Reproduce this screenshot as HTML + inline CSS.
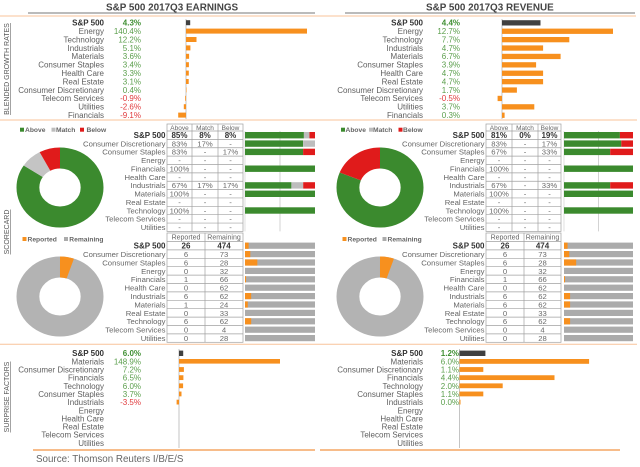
<!DOCTYPE html>
<html><head><meta charset="utf-8"><style>
html,body{margin:0;padding:0;background:#fff;}
svg{display:block;}
text{font-family:"Liberation Sans",Arial,sans-serif;}
.l{font-size:8px;fill:#5f5f5f;text-anchor:end}
.b{font-size:8px;font-weight:bold;fill:#333;text-anchor:end}
.v{font-size:8px;fill:#5a9e4b;text-anchor:end}
.vb{font-size:8px;font-weight:bold;fill:#3f8f32;text-anchor:end}
.vr{font-size:8px;fill:#e0393b;text-anchor:end}
.sl{font-size:7.7px;fill:#666;text-anchor:end}
.c{font-size:7.7px;fill:#6a6a6a;text-anchor:middle}
.cb{font-size:8px;font-weight:bold;fill:#333;text-anchor:middle}
.h{font-size:6.5px;fill:#666;text-anchor:middle}
.lg{font-size:6.7px;font-weight:bold;fill:#666}
.vt{font-size:7px;fill:#555;text-anchor:middle}
.ti{font-size:9.9px;font-weight:bold;fill:#444}
.o{fill:#f7901e}
.k{fill:#404040}
.gr{fill:#3b8a2e}
.gy{fill:#bdbdbd}
.rd{fill:#e01b1b}
.gb{fill:#ababab}
</style></head><body>
<svg width="640" height="467" viewBox="0 0 640 467" xmlns="http://www.w3.org/2000/svg">
<rect width="640" height="467" fill="#fff"/>

<!-- Titles -->
<text class="ti" x="106" y="10.4">S&amp;P 500 2017Q3 EARNINGS</text>
<text class="ti" x="426" y="10.4">S&amp;P 500 2017Q3 REVENUE</text>
<line x1="28" y1="13" x2="315" y2="13" stroke="#777" stroke-width="1"/>
<line x1="345" y1="13" x2="635" y2="13" stroke="#777" stroke-width="1"/>

<!-- peach separators -->
<line x1="0" y1="16" x2="636" y2="16" stroke="#f8c39a" stroke-width="1"/>
<line x1="0" y1="120" x2="637" y2="120" stroke="#f8c39a" stroke-width="1"/>
<line x1="0" y1="344.3" x2="637" y2="344.3" stroke="#f8c39a" stroke-width="1"/>
<line x1="33" y1="450" x2="315" y2="450" stroke="#f29444" stroke-width="1.2"/>
<line x1="320" y1="450" x2="620" y2="450" stroke="#f29444" stroke-width="1.2"/>

<!-- vertical section labels -->
<text class="vt" transform="translate(9,69) rotate(-90)">BLENDED GROWTH RATES</text>
<line x1="10.3" y1="23" x2="10.3" y2="115" stroke="#666" stroke-width="0.6"/>
<text class="vt" transform="translate(9,232) rotate(-90)">SCORECARD</text>
<line x1="10.3" y1="209.5" x2="10.3" y2="254.5" stroke="#666" stroke-width="0.6"/>
<text class="vt" transform="translate(9,397) rotate(-90)">SURPRISE FACTORS</text>
<line x1="10.3" y1="361.5" x2="10.3" y2="432.5" stroke="#666" stroke-width="0.6"/>

<!-- ===== TOP LEFT: EARNINGS GROWTH ===== -->
<text class="b" x="104" y="25.6">S&amp;P 500</text>
<text class="l" x="104" y="34.0">Energy</text>
<text class="l" x="104" y="42.4">Technology</text>
<text class="l" x="104" y="50.8">Industrials</text>
<text class="l" x="104" y="59.2">Materials</text>
<text class="l" x="104" y="67.6">Consumer Staples</text>
<text class="l" x="104" y="76.0">Health Care</text>
<text class="l" x="104" y="84.4">Real Estate</text>
<text class="l" x="104" y="92.8">Consumer Discretionary</text>
<text class="l" x="104" y="101.2">Telecom Services</text>
<text class="l" x="104" y="109.6">Utilities</text>
<text class="l" x="104" y="118.0">Financials</text>

<text class="vb" x="141" y="25.6">4.3%</text>
<text class="v" x="141" y="34.0">140.4%</text>
<text class="v" x="141" y="42.4">12.2%</text>
<text class="v" x="141" y="50.8">5.1%</text>
<text class="v" x="141" y="59.2">3.6%</text>
<text class="v" x="141" y="67.6">3.4%</text>
<text class="v" x="141" y="76.0">3.3%</text>
<text class="v" x="141" y="84.4">3.1%</text>
<text class="v" x="141" y="92.8">0.4%</text>
<text class="vr" x="141" y="101.2">-0.9%</text>
<text class="vr" x="141" y="109.6">-2.6%</text>
<text class="vr" x="141" y="118.0">-9.1%</text>

<line x1="186" y1="19" x2="186" y2="119" stroke="#b5b5b5" stroke-width="0.8"/>
<rect class="k" x="186" y="20.2" width="4.2" height="5"/>
<rect class="o" x="186" y="28.6" width="121" height="5"/>
<rect class="o" x="186" y="37.0" width="10.5" height="5"/>
<rect class="o" x="186" y="45.4" width="4.4" height="5"/>
<rect class="o" x="186" y="53.8" width="3.1" height="5"/>
<rect class="o" x="186" y="62.2" width="2.9" height="5"/>
<rect class="o" x="186" y="70.6" width="2.8" height="5"/>
<rect class="o" x="186" y="79.0" width="2.7" height="5"/>
<rect class="o" x="186" y="87.4" width="0.5" height="5"/>
<rect class="o" x="185.2" y="95.8" width="0.8" height="5"/>
<rect class="o" x="183.8" y="104.2" width="2.2" height="5"/>
<rect class="o" x="178.2" y="112.6" width="7.8" height="5"/>

<!-- ===== TOP RIGHT: REVENUE GROWTH ===== -->
<text class="b" x="423" y="25.6">S&amp;P 500</text>
<text class="l" x="423" y="34.0">Energy</text>
<text class="l" x="423" y="42.4">Technology</text>
<text class="l" x="423" y="50.8">Industrials</text>
<text class="l" x="423" y="59.2">Materials</text>
<text class="l" x="423" y="67.6">Consumer Staples</text>
<text class="l" x="423" y="76.0">Health Care</text>
<text class="l" x="423" y="84.4">Real Estate</text>
<text class="l" x="423" y="92.8">Consumer Discretionary</text>
<text class="l" x="423" y="101.2">Telecom Services</text>
<text class="l" x="423" y="109.6">Utilities</text>
<text class="l" x="423" y="118.0">Financials</text>

<text class="vb" x="460" y="25.6">4.4%</text>
<text class="v" x="460" y="34.0">12.7%</text>
<text class="v" x="460" y="42.4">7.7%</text>
<text class="v" x="460" y="50.8">4.7%</text>
<text class="v" x="460" y="59.2">6.7%</text>
<text class="v" x="460" y="67.6">3.9%</text>
<text class="v" x="460" y="76.0">4.7%</text>
<text class="v" x="460" y="84.4">4.7%</text>
<text class="v" x="460" y="92.8">1.7%</text>
<text class="vr" x="460" y="101.2">-0.5%</text>
<text class="v" x="460" y="109.6">3.7%</text>
<text class="v" x="460" y="118.0">0.3%</text>

<line x1="502" y1="19" x2="502" y2="119" stroke="#b5b5b5" stroke-width="0.8"/>
<rect class="k" x="502" y="20.2" width="38.5" height="5.3"/>
<rect class="o" x="502" y="28.6" width="111" height="5.3"/>
<rect class="o" x="502" y="37.0" width="67.3" height="5.3"/>
<rect class="o" x="502" y="45.4" width="41.1" height="5.3"/>
<rect class="o" x="502" y="53.8" width="58.6" height="5.3"/>
<rect class="o" x="502" y="62.2" width="34.1" height="5.3"/>
<rect class="o" x="502" y="70.6" width="41.1" height="5.3"/>
<rect class="o" x="502" y="79.0" width="41.1" height="5.3"/>
<rect class="o" x="502" y="87.4" width="14.9" height="5.3"/>
<rect class="o" x="497.6" y="95.8" width="4.4" height="5.3"/>
<rect class="o" x="502" y="104.2" width="32.3" height="5.3"/>
<rect class="o" x="502" y="112.6" width="2.6" height="5.3"/>

<!-- ===== SCORECARD LEFT ===== -->
<rect class="gr" x="20" y="127.7" width="4" height="4"/>
<text class="lg" x="25" y="132.2">Above</text>
<rect class="gy" x="51.5" y="127.7" width="4" height="4"/>
<text class="lg" x="56" y="132.2">Match</text>
<rect class="rd" x="80" y="127.7" width="4" height="4"/>
<text class="lg" x="86.5" y="132.2">Below</text>

<g transform="translate(60,187.5) scale(1.0875,1) rotate(-90)">
<circle r="29.5" fill="none" stroke="#3b8a2e" stroke-width="21" stroke-dasharray="156 300"/>
<circle r="29.5" fill="none" stroke="#c4c4c4" stroke-width="21" stroke-dasharray="14.68 300" stroke-dashoffset="-156"/>
<circle r="29.5" fill="none" stroke="#e01b1b" stroke-width="21" stroke-dasharray="14.68 300" stroke-dashoffset="-170.68"/>
</g>

<g fill="none" stroke="#a0a0a0" stroke-width="0.7">
<rect x="167" y="124" width="76" height="107.44"/>
<line x1="192" y1="124" x2="192" y2="231.44"/>
<line x1="218" y1="124" x2="218" y2="231.44"/>
<line x1="167" y1="131" x2="243" y2="131"/>
<line x1="167" y1="139.37" x2="243" y2="139.37"/>
<line x1="167" y1="147.74" x2="243" y2="147.74"/>
<line x1="167" y1="156.11" x2="243" y2="156.11"/>
<line x1="167" y1="164.48" x2="243" y2="164.48"/>
<line x1="167" y1="172.85" x2="243" y2="172.85"/>
<line x1="167" y1="181.22" x2="243" y2="181.22"/>
<line x1="167" y1="189.59" x2="243" y2="189.59"/>
<line x1="167" y1="197.96" x2="243" y2="197.96"/>
<line x1="167" y1="206.33" x2="243" y2="206.33"/>
<line x1="167" y1="214.7" x2="243" y2="214.7"/>
<line x1="167" y1="223.07" x2="243" y2="223.07"/>
</g>
<text class="h" x="179.5" y="129.8">Above</text>
<text class="h" x="205" y="129.8">Match</text>
<text class="h" x="230.5" y="129.8">Below</text>

<text class="b" x="165.5" y="138.2">S&amp;P 500</text>
<text class="sl" x="165.5" y="146.4">Consumer Discretionary</text>
<text class="sl" x="165.5" y="154.7">Consumer Staples</text>
<text class="sl" x="165.5" y="163.1">Energy</text>
<text class="sl" x="165.5" y="171.5">Financials</text>
<text class="sl" x="165.5" y="179.9">Health Care</text>
<text class="sl" x="165.5" y="188.2">Industrials</text>
<text class="sl" x="165.5" y="196.6">Materials</text>
<text class="sl" x="165.5" y="205.0">Real Estate</text>
<text class="sl" x="165.5" y="213.3">Technology</text>
<text class="sl" x="165.5" y="221.7">Telecom Services</text>
<text class="sl" x="165.5" y="230.1">Utilities</text>

<text class="cb" x="179.5" y="138.2">85%</text><text class="cb" x="205" y="138.2">8%</text><text class="cb" x="230.5" y="138.2">8%</text>
<text class="c" x="179.5" y="146.4">83%</text><text class="c" x="205" y="146.4">17%</text><text class="c" x="230.5" y="146.4">-</text>
<text class="c" x="179.5" y="154.7">83%</text><text class="c" x="205" y="154.7">-</text><text class="c" x="230.5" y="154.7">17%</text>
<text class="c" x="179.5" y="163.1">-</text><text class="c" x="205" y="163.1">-</text><text class="c" x="230.5" y="163.1">-</text>
<text class="c" x="179.5" y="171.5">100%</text><text class="c" x="205" y="171.5">-</text><text class="c" x="230.5" y="171.5">-</text>
<text class="c" x="179.5" y="179.9">-</text><text class="c" x="205" y="179.9">-</text><text class="c" x="230.5" y="179.9">-</text>
<text class="c" x="179.5" y="188.2">67%</text><text class="c" x="205" y="188.2">17%</text><text class="c" x="230.5" y="188.2">17%</text>
<text class="c" x="179.5" y="196.6">100%</text><text class="c" x="205" y="196.6">-</text><text class="c" x="230.5" y="196.6">-</text>
<text class="c" x="179.5" y="205.0">-</text><text class="c" x="205" y="205.0">-</text><text class="c" x="230.5" y="205.0">-</text>
<text class="c" x="179.5" y="213.3">100%</text><text class="c" x="205" y="213.3">-</text><text class="c" x="230.5" y="213.3">-</text>
<text class="c" x="179.5" y="221.7">-</text><text class="c" x="205" y="221.7">-</text><text class="c" x="230.5" y="221.7">-</text>
<text class="c" x="179.5" y="230.1">-</text><text class="c" x="205" y="230.1">-</text><text class="c" x="230.5" y="230.1">-</text>

<line x1="245" y1="131" x2="245" y2="231.4" stroke="#d8d8d8" stroke-width="0.8"/>
<line x1="280" y1="131" x2="280" y2="231.4" stroke="#c8c8c8" stroke-width="0.8"/>
<rect class="gr" x="245" y="132.0" width="58.9" height="6.4"/><rect class="gy" x="303.9" y="132.0" width="5.55" height="6.4"/><rect class="rd" x="309.45" y="132.0" width="5.55" height="6.4"/>
<rect class="gr" x="245" y="140.4" width="58.1" height="6.4"/><rect class="gy" x="303.1" y="140.4" width="11.9" height="6.4"/>
<rect class="gr" x="245" y="148.7" width="58.1" height="6.4"/><rect class="rd" x="303.1" y="148.7" width="11.9" height="6.4"/>
<rect class="gr" x="245" y="165.5" width="70" height="6.4"/>
<rect class="gr" x="245" y="182.2" width="46.4" height="6.4"/><rect class="gy" x="291.4" y="182.2" width="11.8" height="6.4"/><rect class="rd" x="303.2" y="182.2" width="11.8" height="6.4"/>
<rect class="gr" x="245" y="190.6" width="70" height="6.4"/>
<rect class="gr" x="245" y="207.3" width="70" height="6.4"/>

<!-- ===== SCORECARD RIGHT ===== -->
<rect class="gr" x="341" y="127.7" width="4" height="4"/>
<text class="lg" x="345.5" y="132.2">Above</text>
<rect class="gy" x="369" y="127.7" width="4" height="4"/>
<text class="lg" x="373" y="132.2">Match</text>
<rect class="rd" x="398.5" y="127.7" width="4" height="4"/>
<text class="lg" x="403" y="132.2">Below</text>

<g transform="translate(380,187.5) scale(1.0875,1) rotate(-90)">
<circle r="29.5" fill="none" stroke="#3b8a2e" stroke-width="21" stroke-dasharray="150.13 300"/>
<circle r="29.5" fill="none" stroke="#e01b1b" stroke-width="21" stroke-dasharray="35.22 300" stroke-dashoffset="-150.13"/>
</g>

<g fill="none" stroke="#a0a0a0" stroke-width="0.7">
<rect x="486" y="124" width="75" height="107.44"/>
<line x1="512" y1="124" x2="512" y2="231.44"/>
<line x1="538" y1="124" x2="538" y2="231.44"/>
<line x1="486" y1="131" x2="561" y2="131"/>
<line x1="486" y1="139.37" x2="561" y2="139.37"/>
<line x1="486" y1="147.74" x2="561" y2="147.74"/>
<line x1="486" y1="156.11" x2="561" y2="156.11"/>
<line x1="486" y1="164.48" x2="561" y2="164.48"/>
<line x1="486" y1="172.85" x2="561" y2="172.85"/>
<line x1="486" y1="181.22" x2="561" y2="181.22"/>
<line x1="486" y1="189.59" x2="561" y2="189.59"/>
<line x1="486" y1="197.96" x2="561" y2="197.96"/>
<line x1="486" y1="206.33" x2="561" y2="206.33"/>
<line x1="486" y1="214.7" x2="561" y2="214.7"/>
<line x1="486" y1="223.07" x2="561" y2="223.07"/>
</g>
<text class="h" x="499" y="129.8">Above</text>
<text class="h" x="525" y="129.8">Match</text>
<text class="h" x="549.5" y="129.8">Below</text>

<text class="b" x="484.5" y="138.2">S&amp;P 500</text>
<text class="sl" x="484.5" y="146.4">Consumer Discretionary</text>
<text class="sl" x="484.5" y="154.7">Consumer Staples</text>
<text class="sl" x="484.5" y="163.1">Energy</text>
<text class="sl" x="484.5" y="171.5">Financials</text>
<text class="sl" x="484.5" y="179.9">Health Care</text>
<text class="sl" x="484.5" y="188.2">Industrials</text>
<text class="sl" x="484.5" y="196.6">Materials</text>
<text class="sl" x="484.5" y="205.0">Real Estate</text>
<text class="sl" x="484.5" y="213.3">Technology</text>
<text class="sl" x="484.5" y="221.7">Telecom Services</text>
<text class="sl" x="484.5" y="230.1">Utilities</text>

<text class="cb" x="499" y="138.2">81%</text><text class="cb" x="525" y="138.2">0%</text><text class="cb" x="549.5" y="138.2">19%</text>
<text class="c" x="499" y="146.4">83%</text><text class="c" x="525" y="146.4">-</text><text class="c" x="549.5" y="146.4">17%</text>
<text class="c" x="499" y="154.7">67%</text><text class="c" x="525" y="154.7">-</text><text class="c" x="549.5" y="154.7">33%</text>
<text class="c" x="499" y="163.1">-</text><text class="c" x="525" y="163.1">-</text><text class="c" x="549.5" y="163.1">-</text>
<text class="c" x="499" y="171.5">100%</text><text class="c" x="525" y="171.5">-</text><text class="c" x="549.5" y="171.5">-</text>
<text class="c" x="499" y="179.9">-</text><text class="c" x="525" y="179.9">-</text><text class="c" x="549.5" y="179.9">-</text>
<text class="c" x="499" y="188.2">67%</text><text class="c" x="525" y="188.2">-</text><text class="c" x="549.5" y="188.2">33%</text>
<text class="c" x="499" y="196.6">100%</text><text class="c" x="525" y="196.6">-</text><text class="c" x="549.5" y="196.6">-</text>
<text class="c" x="499" y="205.0">-</text><text class="c" x="525" y="205.0">-</text><text class="c" x="549.5" y="205.0">-</text>
<text class="c" x="499" y="213.3">100%</text><text class="c" x="525" y="213.3">-</text><text class="c" x="549.5" y="213.3">-</text>
<text class="c" x="499" y="221.7">-</text><text class="c" x="525" y="221.7">-</text><text class="c" x="549.5" y="221.7">-</text>
<text class="c" x="499" y="230.1">-</text><text class="c" x="525" y="230.1">-</text><text class="c" x="549.5" y="230.1">-</text>

<line x1="564" y1="131" x2="564" y2="231.4" stroke="#d8d8d8" stroke-width="0.8"/>
<line x1="598.5" y1="131" x2="598.5" y2="231.4" stroke="#c8c8c8" stroke-width="0.8"/>
<rect class="gr" x="564" y="132.0" width="55.9" height="6.4"/><rect class="rd" x="619.9" y="132.0" width="13.1" height="6.4"/>
<rect class="gr" x="564" y="140.4" width="57.3" height="6.4"/><rect class="rd" x="621.3" y="140.4" width="11.7" height="6.4"/>
<rect class="gr" x="564" y="148.7" width="46.2" height="6.4"/><rect class="rd" x="610.2" y="148.7" width="22.8" height="6.4"/>
<rect class="gr" x="564" y="165.5" width="69" height="6.4"/>
<rect class="gr" x="564" y="182.2" width="46.2" height="6.4"/><rect class="rd" x="610.2" y="182.2" width="22.8" height="6.4"/>
<rect class="gr" x="564" y="190.6" width="69" height="6.4"/>
<rect class="gr" x="564" y="207.3" width="69" height="6.4"/>

<!-- ===== REPORTED LEFT ===== -->
<rect class="o" x="22.5" y="237" width="4" height="4"/>
<text class="lg" x="27.5" y="241.4">Reported</text>
<rect class="gb" x="64" y="237" width="4" height="4"/>
<text class="lg" x="69.3" y="241.4">Remaining</text>

<g transform="translate(60,296.5) scale(1.0875,1) rotate(-90)">
<circle r="29.5" fill="none" stroke="#b3b3b3" stroke-width="21"/>
<circle r="29.5" fill="none" stroke="#f7901e" stroke-width="21" stroke-dasharray="9.64 300"/>
</g>

<g fill="none" stroke="#a0a0a0" stroke-width="0.7">
<rect x="167" y="233" width="76" height="109.3"/>
<line x1="205" y1="233" x2="205" y2="342.3"/>
<line x1="167" y1="241.5" x2="243" y2="241.5"/>
<line x1="167" y1="249.9" x2="243" y2="249.9"/>
<line x1="167" y1="258.3" x2="243" y2="258.3"/>
<line x1="167" y1="266.7" x2="243" y2="266.7"/>
<line x1="167" y1="275.1" x2="243" y2="275.1"/>
<line x1="167" y1="283.5" x2="243" y2="283.5"/>
<line x1="167" y1="291.9" x2="243" y2="291.9"/>
<line x1="167" y1="300.3" x2="243" y2="300.3"/>
<line x1="167" y1="308.7" x2="243" y2="308.7"/>
<line x1="167" y1="317.1" x2="243" y2="317.1"/>
<line x1="167" y1="325.5" x2="243" y2="325.5"/>
<line x1="167" y1="333.9" x2="243" y2="333.9"/>
</g>
<text class="h" x="186" y="239.6" style="font-size:7px">Reported</text>
<text class="h" x="224" y="239.6" style="font-size:7px">Remaining</text>

<text class="b" x="165.5" y="248.6">S&amp;P 500</text>
<text class="sl" x="165.5" y="257.0">Consumer Discretionary</text>
<text class="sl" x="165.5" y="265.4">Consumer Staples</text>
<text class="sl" x="165.5" y="273.8">Energy</text>
<text class="sl" x="165.5" y="282.2">Financials</text>
<text class="sl" x="165.5" y="290.6">Health Care</text>
<text class="sl" x="165.5" y="299.0">Industrials</text>
<text class="sl" x="165.5" y="307.4">Materials</text>
<text class="sl" x="165.5" y="315.8">Real Estate</text>
<text class="sl" x="165.5" y="324.2">Technology</text>
<text class="sl" x="165.5" y="332.6">Telecom Services</text>
<text class="sl" x="165.5" y="341.0">Utilities</text>

<text class="cb" x="186" y="248.6">26</text><text class="cb" x="224" y="248.6">474</text>
<text class="c" x="186" y="257.0">6</text><text class="c" x="224" y="257.0">73</text>
<text class="c" x="186" y="265.4">6</text><text class="c" x="224" y="265.4">28</text>
<text class="c" x="186" y="273.8">0</text><text class="c" x="224" y="273.8">32</text>
<text class="c" x="186" y="282.2">1</text><text class="c" x="224" y="282.2">66</text>
<text class="c" x="186" y="290.6">0</text><text class="c" x="224" y="290.6">62</text>
<text class="c" x="186" y="299.0">6</text><text class="c" x="224" y="299.0">62</text>
<text class="c" x="186" y="307.4">1</text><text class="c" x="224" y="307.4">24</text>
<text class="c" x="186" y="315.8">0</text><text class="c" x="224" y="315.8">33</text>
<text class="c" x="186" y="324.2">6</text><text class="c" x="224" y="324.2">62</text>
<text class="c" x="186" y="332.6">0</text><text class="c" x="224" y="332.6">4</text>
<text class="c" x="186" y="341.0">0</text><text class="c" x="224" y="341.0">28</text>

<g class="gb">
<rect x="245" y="242.6" width="70" height="6.2"/>
<rect x="245" y="251.0" width="70" height="6.2"/>
<rect x="245" y="259.4" width="70" height="6.2"/>
<rect x="245" y="267.8" width="70" height="6.2"/>
<rect x="245" y="276.2" width="70" height="6.2"/>
<rect x="245" y="284.6" width="70" height="6.2"/>
<rect x="245" y="293.0" width="70" height="6.2"/>
<rect x="245" y="301.4" width="70" height="6.2"/>
<rect x="245" y="309.8" width="70" height="6.2"/>
<rect x="245" y="318.2" width="70" height="6.2"/>
<rect x="245" y="326.6" width="70" height="6.2"/>
<rect x="245" y="335.0" width="70" height="6.2"/>
</g>
<rect class="o" x="245" y="242.6" width="3.64" height="6.2"/>
<rect class="o" x="245" y="251.0" width="5.32" height="6.2"/>
<rect class="o" x="245" y="259.4" width="12.35" height="6.2"/>
<rect class="o" x="245" y="276.2" width="1.04" height="6.2"/>
<rect class="o" x="245" y="293.0" width="6.18" height="6.2"/>
<rect class="o" x="245" y="301.4" width="2.8" height="6.2"/>
<rect class="o" x="245" y="318.2" width="6.18" height="6.2"/>

<!-- ===== REPORTED RIGHT ===== -->
<rect class="o" x="342.5" y="237" width="4" height="4"/>
<text class="lg" x="347.5" y="241.4">Reported</text>
<rect class="gb" x="382.5" y="237" width="4" height="4"/>
<text class="lg" x="387.5" y="241.4">Remaining</text>

<g transform="translate(380,296.5) scale(1.0875,1) rotate(-90)">
<circle r="29.5" fill="none" stroke="#b3b3b3" stroke-width="21"/>
<circle r="29.5" fill="none" stroke="#f7901e" stroke-width="21" stroke-dasharray="9.64 300"/>
</g>

<g fill="none" stroke="#a0a0a0" stroke-width="0.7">
<rect x="486" y="233" width="75" height="109.3"/>
<line x1="524" y1="233" x2="524" y2="342.3"/>
<line x1="486" y1="241.5" x2="561" y2="241.5"/>
<line x1="486" y1="249.9" x2="561" y2="249.9"/>
<line x1="486" y1="258.3" x2="561" y2="258.3"/>
<line x1="486" y1="266.7" x2="561" y2="266.7"/>
<line x1="486" y1="275.1" x2="561" y2="275.1"/>
<line x1="486" y1="283.5" x2="561" y2="283.5"/>
<line x1="486" y1="291.9" x2="561" y2="291.9"/>
<line x1="486" y1="300.3" x2="561" y2="300.3"/>
<line x1="486" y1="308.7" x2="561" y2="308.7"/>
<line x1="486" y1="317.1" x2="561" y2="317.1"/>
<line x1="486" y1="325.5" x2="561" y2="325.5"/>
<line x1="486" y1="333.9" x2="561" y2="333.9"/>
</g>
<text class="h" x="505" y="239.6" style="font-size:7px">Reported</text>
<text class="h" x="542.5" y="239.6" style="font-size:7px">Remaining</text>

<text class="b" x="484.5" y="248.6">S&amp;P 500</text>
<text class="sl" x="484.5" y="257.0">Consumer Discretionary</text>
<text class="sl" x="484.5" y="265.4">Consumer Staples</text>
<text class="sl" x="484.5" y="273.8">Energy</text>
<text class="sl" x="484.5" y="282.2">Financials</text>
<text class="sl" x="484.5" y="290.6">Health Care</text>
<text class="sl" x="484.5" y="299.0">Industrials</text>
<text class="sl" x="484.5" y="307.4">Materials</text>
<text class="sl" x="484.5" y="315.8">Real Estate</text>
<text class="sl" x="484.5" y="324.2">Technology</text>
<text class="sl" x="484.5" y="332.6">Telecom Services</text>
<text class="sl" x="484.5" y="341.0">Utilities</text>

<text class="cb" x="505" y="248.6">26</text><text class="cb" x="542.5" y="248.6">474</text>
<text class="c" x="505" y="257.0">6</text><text class="c" x="542.5" y="257.0">73</text>
<text class="c" x="505" y="265.4">6</text><text class="c" x="542.5" y="265.4">28</text>
<text class="c" x="505" y="273.8">0</text><text class="c" x="542.5" y="273.8">32</text>
<text class="c" x="505" y="282.2">1</text><text class="c" x="542.5" y="282.2">66</text>
<text class="c" x="505" y="290.6">0</text><text class="c" x="542.5" y="290.6">62</text>
<text class="c" x="505" y="299.0">6</text><text class="c" x="542.5" y="299.0">62</text>
<text class="c" x="505" y="307.4">6</text><text class="c" x="542.5" y="307.4">62</text>
<text class="c" x="505" y="315.8">0</text><text class="c" x="542.5" y="315.8">33</text>
<text class="c" x="505" y="324.2">6</text><text class="c" x="542.5" y="324.2">62</text>
<text class="c" x="505" y="332.6">0</text><text class="c" x="542.5" y="332.6">4</text>
<text class="c" x="505" y="341.0">0</text><text class="c" x="542.5" y="341.0">28</text>

<g class="gb">
<rect x="564" y="242.6" width="69" height="6.2"/>
<rect x="564" y="251.0" width="69" height="6.2"/>
<rect x="564" y="259.4" width="69" height="6.2"/>
<rect x="564" y="267.8" width="69" height="6.2"/>
<rect x="564" y="276.2" width="69" height="6.2"/>
<rect x="564" y="284.6" width="69" height="6.2"/>
<rect x="564" y="293.0" width="69" height="6.2"/>
<rect x="564" y="301.4" width="69" height="6.2"/>
<rect x="564" y="309.8" width="69" height="6.2"/>
<rect x="564" y="318.2" width="69" height="6.2"/>
<rect x="564" y="326.6" width="69" height="6.2"/>
<rect x="564" y="335.0" width="69" height="6.2"/>
</g>
<rect class="o" x="564" y="242.6" width="3.59" height="6.2"/>
<rect class="o" x="564" y="251.0" width="5.24" height="6.2"/>
<rect class="o" x="564" y="259.4" width="12.18" height="6.2"/>
<rect class="o" x="564" y="276.2" width="1.03" height="6.2"/>
<rect class="o" x="564" y="293.0" width="6.09" height="6.2"/>
<rect class="o" x="564" y="301.4" width="6.09" height="6.2"/>
<rect class="o" x="564" y="318.2" width="6.09" height="6.2"/>

<!-- ===== SURPRISE LEFT ===== -->
<text class="b" x="104" y="356.2">S&amp;P 500</text>
<text class="l" x="104" y="364.35">Materials</text>
<text class="l" x="104" y="372.5">Consumer Discretionary</text>
<text class="l" x="104" y="380.65">Financials</text>
<text class="l" x="104" y="388.8">Technology</text>
<text class="l" x="104" y="396.95">Consumer Staples</text>
<text class="l" x="104" y="405.1">Industrials</text>
<text class="l" x="104" y="413.25">Energy</text>
<text class="l" x="104" y="421.4">Health Care</text>
<text class="l" x="104" y="429.55">Real Estate</text>
<text class="l" x="104" y="437.7">Telecom Services</text>
<text class="l" x="104" y="445.85">Utilities</text>

<text class="vb" x="141" y="356.2">6.0%</text>
<text class="v" x="141" y="364.35">148.9%</text>
<text class="v" x="141" y="372.5">7.2%</text>
<text class="v" x="141" y="380.65">6.5%</text>
<text class="v" x="141" y="388.8">6.0%</text>
<text class="v" x="141" y="396.95">3.7%</text>
<text class="vr" x="141" y="405.1">-3.5%</text>

<line x1="179" y1="349" x2="179" y2="448" stroke="#b5b5b5" stroke-width="0.8"/>
<rect class="k" x="179" y="350.6" width="4.2" height="5.4"/>
<rect class="o" x="179" y="359.0" width="101" height="4.6"/>
<rect class="o" x="179" y="367.1" width="4.9" height="4.8"/>
<rect class="o" x="179" y="375.25" width="4.4" height="4.8"/>
<rect class="o" x="179" y="383.4" width="4.1" height="4.8"/>
<rect class="o" x="179" y="391.55" width="2.5" height="4.8"/>
<rect class="o" x="176.6" y="399.7" width="2.4" height="4.8"/>

<!-- ===== SURPRISE RIGHT ===== -->
<text class="b" x="423" y="356.2">S&amp;P 500</text>
<text class="l" x="423" y="364.35">Materials</text>
<text class="l" x="423" y="372.5">Consumer Discretionary</text>
<text class="l" x="423" y="380.65">Financials</text>
<text class="l" x="423" y="388.8">Technology</text>
<text class="l" x="423" y="396.95">Consumer Staples</text>
<text class="l" x="423" y="405.1">Industrials</text>
<text class="l" x="423" y="413.25">Energy</text>
<text class="l" x="423" y="421.4">Health Care</text>
<text class="l" x="423" y="429.55">Real Estate</text>
<text class="l" x="423" y="437.7">Telecom Services</text>
<text class="l" x="423" y="445.85">Utilities</text>

<line x1="459.5" y1="349" x2="459.5" y2="448" stroke="#b5b5b5" stroke-width="0.8"/>
<rect class="k" x="459.5" y="350.6" width="25.9" height="5.4"/>
<rect class="o" x="459.5" y="359.0" width="129.6" height="4.8"/>
<rect class="o" x="459.5" y="367.1" width="23.8" height="4.8"/>
<rect class="o" x="459.5" y="375.25" width="95" height="4.8"/>
<rect class="o" x="459.5" y="383.4" width="43.2" height="4.8"/>
<rect class="o" x="459.5" y="391.55" width="23.8" height="4.8"/>
<rect class="o" x="459.5" y="399.7" width="1" height="4.8"/>

<text class="vb" x="459" y="356.2">1.2%</text>
<text class="v" x="459" y="364.35">6.0%</text>
<text class="v" x="459" y="372.5">1.1%</text>
<text class="v" x="459" y="380.65">4.4%</text>
<text class="v" x="459" y="388.8">2.0%</text>
<text class="v" x="459" y="396.95">1.1%</text>
<text class="v" x="459" y="405.1">0.0%</text>

<!-- Source -->
<text x="36" y="461.8" style="font-size:9.8px;fill:#666">Source: Thomson Reuters I/B/E/S</text>
</svg>
</body></html>
